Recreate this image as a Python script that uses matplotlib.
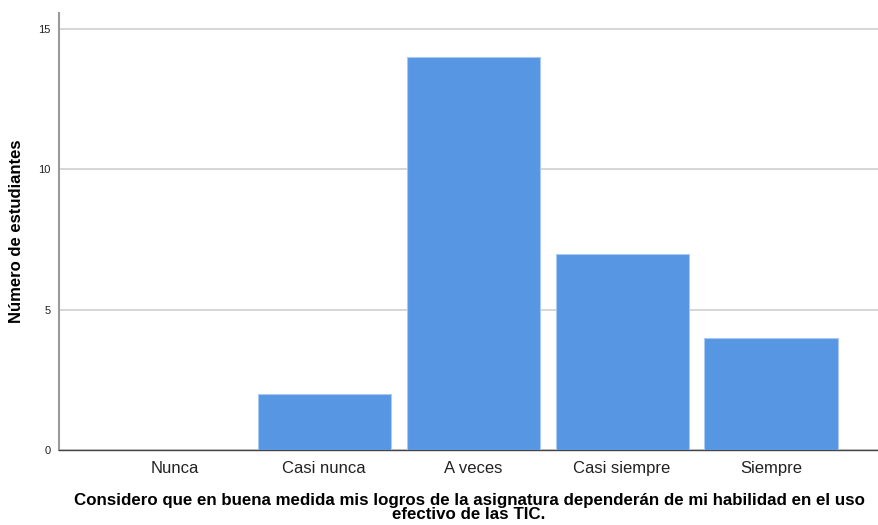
import numpy as np
import matplotlib.pyplot as plt

plt.rcParams['font.family'] = ['Liberation Sans', 'DejaVu Sans']

categorias = ["Nunca", "Casi nunca", "A veces", "Casi siempre", "Siempre"]
frecuencias = [0, 2, 14, 7, 4]
yticks = [0, 5, 10, 15]

fig = plt.figure(figsize=(8.79, 5.25), dpi=100)
ax = fig.add_axes([59/879, 75/525, 1 - 59/879, (450-13)/525])

x = np.arange(len(categorias))
ax.bar(x, frecuencias, width=0.893, color="#5796e3", edgecolor="#a9c9f0", linewidth=0.8, zorder=3)

ax.set_xlim(-0.78, 4.725)
ax.set_ylim(0, 15.57)
ax.set_yticks(yticks)
ax.set_yticklabels([str(v) for v in yticks], fontsize=8, color="#222222")
ax.set_xticks(x)
ax.set_xticklabels(categorias, fontsize=12, color="#222222")
ax.tick_params(axis="both", length=0)
ax.tick_params(axis="x", pad=8)
ax.tick_params(axis="y", pad=6)

ax.grid(axis="y", color="#d0d0d0", linewidth=1.2, zorder=0)
ax.spines["top"].set_visible(False)
ax.spines["right"].set_visible(False)
ax.spines["left"].set_color("#9a9a9a")
ax.spines["left"].set_linewidth(1.5)
ax.spines["bottom"].set_color("#444444")
ax.spines["bottom"].set_linewidth(1.0)

ax.set_ylabel("Número de estudiantes", fontsize=12, fontweight="bold", labelpad=10)
ax.set_xlabel("Considero que en buena medida mis logros de la asignatura dependerán de mi habilidad en el uso\nefectivo de las TIC.",
              fontsize=12.2, fontweight="bold", linespacing=0.95, labelpad=12)

fig.savefig("out.png", dpi=100)
